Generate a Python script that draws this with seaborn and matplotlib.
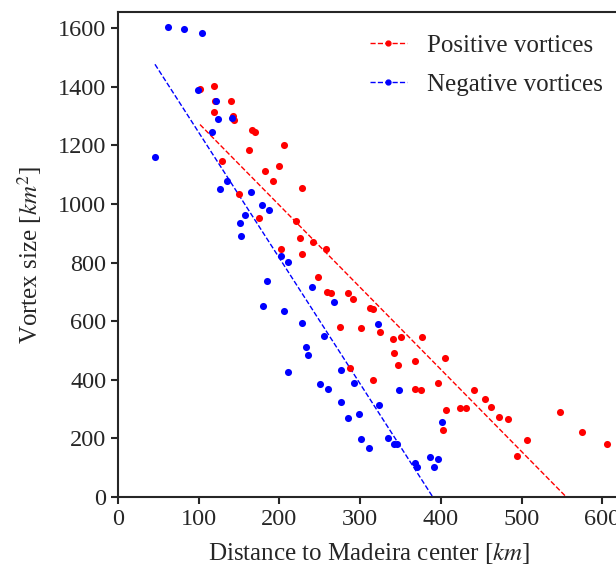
import matplotlib
matplotlib.use("Agg")
import matplotlib.pyplot as plt
from matplotlib.lines import Line2D
import numpy as np
import pandas as pd
import seaborn as sns

# Negative vortices (blue)
neg_dist = [61.6, 81.8, 104, 98.7, 121, 124.3, 141.3, 116.9, 45.8, 135.5, 126.4, 164.4,
            178.8, 186.7, 157.8, 151.2, 152, 202.4, 210.2, 184.3, 240.8, 267.7, 179.3,
            205.3, 228, 322.2, 254.9, 232.6, 235.8, 210.7, 276.3, 292.4, 347.8, 250.3,
            260.2, 276, 323.4, 285, 298.6, 301.1, 310.6, 334.6, 341.6, 345.7, 368.4,
            370.9, 386.6, 396.2, 391.2, 401.1]
neg_size = [1605, 1597, 1585, 1390, 1352, 1290, 1294, 1244, 1161, 1080, 1052, 1042,
            998, 979, 963, 936, 892, 822, 802, 737, 716, 666, 653,
            635, 595, 590, 548, 512, 484, 428, 434, 388, 366, 385,
            370, 324, 313, 270, 282, 197, 166, 202, 182, 180, 115,
            101, 138, 130, 102, 256]

# Positive vortices (red)
pos_dist = [101.6, 119, 120, 140.4, 119.4, 142.9, 143.7, 166, 170, 205.7, 162, 129.3,
            199.5, 181.7, 192.5, 228.4, 150, 175.1, 220.2, 225.1, 242, 257.7, 201.6,
            227.6, 247.4, 259, 264.3, 284.6, 290.7, 312.3, 315.6, 275, 300.7, 324.7,
            340.4, 351, 342, 347, 287.5, 315.6, 377, 368.4, 405.2, 368, 375.5, 396.2,
            441.5, 454.2, 461.7, 472.5, 482.8, 548, 574.6, 606, 506.8, 494.8, 423.8,
            431.6, 406.4, 403.1]
pos_size = [1392, 1402, 1352, 1350, 1313, 1300, 1286, 1254, 1246, 1200, 1184, 1147,
            1128, 1111, 1080, 1055, 1033, 953, 942, 885, 869, 847, 847,
            828, 750, 699, 695, 696, 677, 644, 641, 580, 578, 562,
            540, 545, 491, 449, 439, 398, 547, 463, 473, 370, 366, 389,
            365, 333, 306, 274, 265, 290, 222, 180, 196, 141, 305,
            305, 297, 229]

labels = ["Positive vortices", "Negative vortices"]
x_ticks = [0, 100, 200, 300, 400, 500, 600]
y_ticks = [0, 200, 400, 600, 800, 1000, 1200, 1400, 1600]

sns.set_style("ticks")
plt.rcParams["font.family"] = ["Liberation Serif", "DejaVu Serif"]
plt.rcParams["mathtext.fontset"] = "stix"

fig = plt.figure(figsize=(6.16, 5.69), dpi=100)
ax = fig.add_axes([118 / 616, 72 / 569, 502 / 616, 485 / 569])

pos_df = pd.DataFrame({"d": pos_dist, "s": pos_size})
neg_df = pd.DataFrame({"d": neg_dist, "s": neg_size})

sns.regplot(data=pos_df, x="d", y="s", ax=ax, ci=None, color="red",
            scatter_kws=dict(s=26, linewidths=0, alpha=1, zorder=3),
            line_kws=dict(ls="--", lw=1.0, zorder=2))
sns.regplot(data=neg_df, x="d", y="s", ax=ax, ci=None, color="blue",
            scatter_kws=dict(s=26, linewidths=0, alpha=1, zorder=3),
            line_kws=dict(ls="--", lw=1.0, zorder=2))

ax.set_xlim(0, 622)
ax.set_ylim(0, 1655)
ax.set_xticks(x_ticks)
ax.set_yticks(y_ticks)
ax.tick_params(axis="both", direction="out", length=5, width=1.5, labelsize=17.5)
for sp in ax.spines.values():
    sp.set_linewidth(1.5)
    sp.set_visible(True)

ax.set_xlabel("Distance to Madeira center [$km$]", fontsize=18, labelpad=7)
ax.set_ylabel("Vortex size [$km^2$]", fontsize=18, labelpad=10)

handles = [Line2D([], [], color="red", ls="--", lw=1.0, marker=".", markersize=7),
           Line2D([], [], color="blue", ls="--", lw=1.0, marker=".", markersize=7)]
ax.legend(handles, labels, loc="upper right", frameon=False, fontsize=18,
          numpoints=1, handlelength=1.5, handletextpad=0.8, labelspacing=0.65,
          bbox_to_anchor=(1.011, 1.0))

fig.savefig("out.png", dpi=100)
